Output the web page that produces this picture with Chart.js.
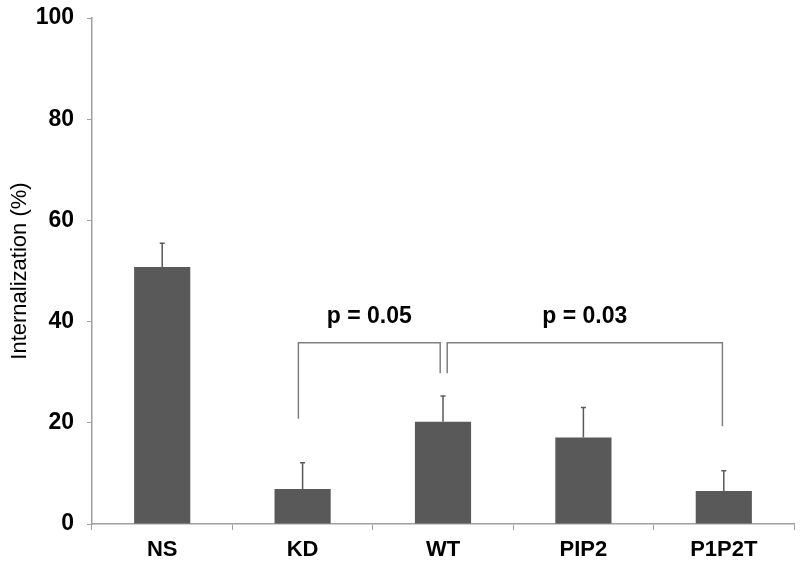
<!DOCTYPE html>
<html>
<head>
<meta charset="utf-8">
<script src="https://cdn.jsdelivr.net/npm/chart.js@4/dist/chart.umd.min.js"></script>
<style>
html,body{margin:0;padding:0;background:#fff;}
#wrap{width:800px;height:570px;}
</style>
</head>
<body>
<div id="wrap"><canvas id="c" width="800" height="570"></canvas></div>
<script>
// ---- data ----
const categories = ['NS', 'KD', 'WT', 'PIP2', 'P1P2T'];
const values = [50.8, 6.9, 20.2, 17.1, 6.5];
const errorsUp = [4.7, 5.2, 5.1, 5.9, 4.0];
const yTicks = [0, 20, 40, 60, 80, 100];
// significance brackets: category index positions and data-unit heights
const bracketLabels = ['p = 0.05', 'p = 0.03'];
const bracketFrom = [0.97, 2.03];
const bracketTo = [1.98, 3.99];
const bracketTop = [35.8, 35.8];
const bracketLeftEnd = [20.8, 29.8];
const bracketRightEnd = [29.8, 19.3];
const bracketLabelY = [40.9, 40.9];

const FONT = "'Liberation Sans', Arial, sans-serif";

const overlay = {
  id: 'overlay',
  afterDatasetsDraw(chart) {
    const ctx = chart.ctx;
    const x = chart.scales.x, y = chart.scales.y;
    const meta = chart.getDatasetMeta(0);
    ctx.save();
    // error bars
    ctx.strokeStyle = '#5a5a5a';
    ctx.lineWidth = 1.5;
    meta.data.forEach((bar, i) => {
      const cx = bar.x;
      const y0 = y.getPixelForValue(values[i]);
      const y1 = y.getPixelForValue(values[i] + errorsUp[i]);
      ctx.beginPath();
      ctx.moveTo(cx, y0);
      ctx.lineTo(cx, y1);
      ctx.moveTo(cx - 2.5, y1);
      ctx.lineTo(cx + 2.5, y1);
      ctx.stroke();
    });
    // brackets
    const posX = v => x.getPixelForValue(0) + (x.getPixelForValue(1) - x.getPixelForValue(0)) * v;
    ctx.strokeStyle = '#808080';
    ctx.lineWidth = 1.5;
    for (let k = 0; k < bracketLabels.length; k++) {
      const xa = posX(bracketFrom[k]), xb = posX(bracketTo[k]);
      const yt = y.getPixelForValue(bracketTop[k]);
      ctx.beginPath();
      ctx.moveTo(xa, y.getPixelForValue(bracketLeftEnd[k]));
      ctx.lineTo(xa, yt);
      ctx.lineTo(xb, yt);
      ctx.lineTo(xb, y.getPixelForValue(bracketRightEnd[k]));
      ctx.stroke();
      ctx.fillStyle = '#000';
      ctx.font = 'bold 23px ' + FONT;
      ctx.textAlign = 'center';
      ctx.textBaseline = 'middle';
      ctx.fillText(bracketLabels[k], (xa + xb) / 2, y.getPixelForValue(bracketLabelY[k]));
    }
    ctx.restore();
  }
};

new Chart(document.getElementById('c'), {
  type: 'bar',
  data: {
    labels: categories,
    datasets: [{
      data: values,
      backgroundColor: '#595959',
      borderWidth: 0,
      categoryPercentage: 1.0,
      barPercentage: 0.4
    }]
  },
  options: {
    responsive: false,
    animation: false,
    events: [],
    layout: { padding: { top: 18, right: 6, left: 0, bottom: 0 } },
    plugins: { legend: { display: false }, tooltip: { enabled: false } },
    scales: {
      x: {
        grid: { offset: true, drawOnChartArea: false, drawTicks: true, tickLength: 6, color: '#a0a0a0', lineWidth: 1 },
        border: { color: '#a0a0a0', width: 1.5 },
        ticks: { color: '#000', font: { family: FONT, size: 22, weight: 'bold' }, padding: 7 },
        afterFit(s) { s.height = 46; s.paddingLeft = 0; s.paddingRight = 0; }
      },
      y: {
        min: 0, max: 100,
        afterBuildTicks(s) { s.ticks = yTicks.map(v => ({ value: v })); },
        grid: { drawOnChartArea: false, drawTicks: true, tickLength: 5, color: '#a0a0a0' },
        border: { color: '#a0a0a0', width: 1.5 },
        ticks: { color: '#000', font: { family: FONT, size: 23, weight: 'bold' }, padding: 13 },
        title: { display: true, text: 'Internalization (%)', color: '#000', font: { family: FONT, size: 22 }, padding: { top: 7, bottom: 0 } },
        afterFit(s) { s.width = 92; s.paddingTop = 0; s.paddingBottom = 0; }
      }
    }
  },
  plugins: [overlay]
});
</script>
</body>
</html>
